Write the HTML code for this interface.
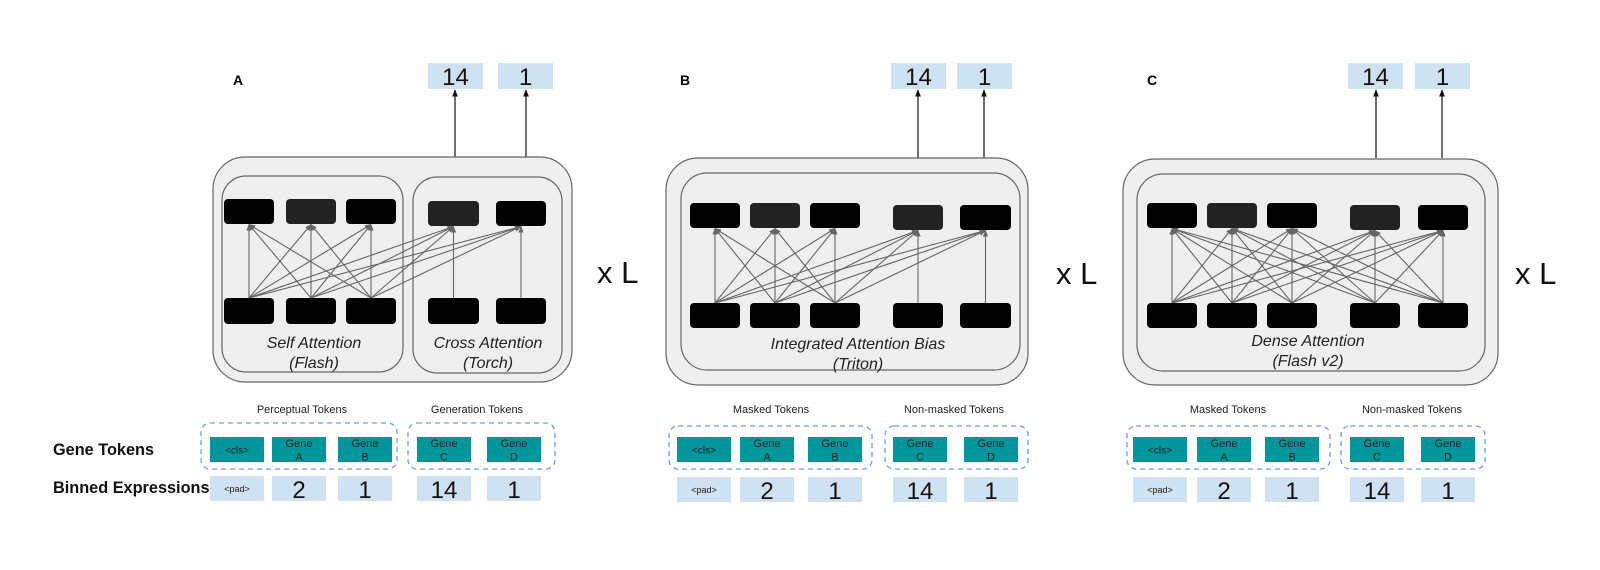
<!DOCTYPE html>
<html><head><meta charset="utf-8"><style>
html,body{margin:0;padding:0;background:#fff;}
svg{display:block;font-family:"Liberation Sans",Arial,sans-serif;}
</style></head><body>
<svg id="s" width="1600" height="570" viewBox="0 0 1600 570" xmlns="http://www.w3.org/2000/svg">
<defs>
<marker id="ah" viewBox="0 0 10 10" refX="9" refY="5" markerWidth="6" markerHeight="6" orient="auto-start-reverse"><path d="M0,1 L10,5 L0,9 z" fill="#666"/></marker>
<marker id="ak" viewBox="0 0 10 10" refX="9" refY="5" markerWidth="6" markerHeight="6" orient="auto-start-reverse"><path d="M0,1 L10,5 L0,9 z" fill="#111"/></marker>
</defs>
<rect width="1600" height="570" fill="#fff"/>

<g font-size="14" font-weight="bold">
<text x="233" y="85">A</text>
<text x="680" y="85">B</text>
<text x="1147" y="85">C</text>
</g>

<g fill="#cfe2f3">
<rect x="428" y="63" width="55" height="26"/><rect x="498" y="63" width="55" height="26"/>
<rect x="891" y="63" width="55" height="26"/><rect x="957" y="63" width="55" height="26"/>
<rect x="1348" y="63" width="55" height="26"/><rect x="1415" y="63" width="55" height="26"/>
</g>
<g font-size="24" text-anchor="middle" fill="#111">
<text x="455.5" y="85">14</text><text x="525.5" y="85">1</text>
<text x="918.5" y="85">14</text><text x="984.5" y="85">1</text>
<text x="1375.5" y="85">14</text><text x="1442.5" y="85">1</text>
</g>
<g stroke="#111" stroke-width="1.2" marker-end="url(#ak)">
<line x1="455" y1="157" x2="455" y2="90"/><line x1="526" y1="157" x2="526" y2="90"/>
<line x1="918" y1="158" x2="918" y2="90"/><line x1="984" y1="158" x2="984" y2="90"/>
<line x1="1376" y1="158" x2="1376" y2="90"/><line x1="1442" y1="158" x2="1442" y2="90"/>
</g>

<g fill="#efefef" stroke="#666" stroke-width="1.2">
<rect x="213" y="157" width="359" height="225" rx="32"/>
<rect x="222" y="176" width="181" height="196" rx="24"/>
<rect x="413" y="177" width="149" height="196" rx="24"/>
<rect x="666" y="158" width="362" height="227" rx="32"/>
<rect x="681" y="173" width="339" height="197" rx="26"/>
<rect x="1123" y="159" width="375" height="226" rx="32"/>
<rect x="1137" y="174" width="348" height="197" rx="26"/>
</g>

<g id="lines" stroke="#666" stroke-width="1.1" fill="none"></g>

<g fill="#000">
<rect x="224" y="199" width="50" height="25" rx="4"/>
<rect x="286" y="199" width="50" height="25" rx="4" fill="#222"/>
<rect x="346" y="199" width="50" height="25" rx="4"/>
<rect x="428" y="201" width="51" height="25" rx="4" fill="#222"/>
<rect x="496" y="201" width="50" height="25" rx="4"/>
<rect x="224" y="298" width="50" height="26" rx="4"/>
<rect x="286" y="298" width="50" height="26" rx="4"/>
<rect x="346" y="298" width="50" height="26" rx="4"/>
<rect x="428" y="298" width="51" height="26" rx="4"/>
<rect x="496" y="298" width="50" height="26" rx="4"/>
<rect x="690" y="203" width="50" height="25" rx="4"/>
<rect x="750" y="203" width="50" height="25" rx="4" fill="#222"/>
<rect x="810" y="203" width="50" height="25" rx="4"/>
<rect x="893" y="205" width="50" height="25" rx="4" fill="#222"/>
<rect x="960" y="205" width="51" height="25" rx="4"/>
<rect x="690" y="303" width="50" height="25" rx="4"/>
<rect x="750" y="303" width="50" height="25" rx="4"/>
<rect x="810" y="303" width="50" height="25" rx="4"/>
<rect x="893" y="303" width="50" height="25" rx="4"/>
<rect x="960" y="303" width="51" height="25" rx="4"/>
<rect x="1147" y="203" width="50" height="25" rx="4"/>
<rect x="1207" y="203" width="50" height="25" rx="4" fill="#222"/>
<rect x="1267" y="203" width="50" height="25" rx="4"/>
<rect x="1350" y="205" width="50" height="25" rx="4" fill="#222"/>
<rect x="1418" y="205" width="50" height="25" rx="4"/>
<rect x="1147" y="303" width="50" height="25" rx="4"/>
<rect x="1207" y="303" width="50" height="25" rx="4"/>
<rect x="1267" y="303" width="50" height="25" rx="4"/>
<rect x="1350" y="303" width="50" height="25" rx="4"/>
<rect x="1418" y="303" width="50" height="25" rx="4"/>
</g>

<g font-size="16" font-style="italic" text-anchor="middle" fill="#222">
<text x="314" y="348">Self Attention</text><text x="314" y="368">(Flash)</text>
<text x="488" y="348">Cross Attention</text><text x="488" y="368">(Torch)</text>
<text x="858" y="349">Integrated Attention Bias</text><text x="858" y="369">(Triton)</text>
<text x="1308" y="346">Dense Attention</text><text x="1308" y="366">(Flash v2)</text>
</g>

<g font-size="31" fill="#111">
<text x="597" y="283">x L</text>
<text x="1056" y="284">x L</text>
<text x="1515" y="284">x L</text>
</g>

<g font-size="16.3" font-weight="bold" fill="#111">
<text x="53" y="455">Gene Tokens</text>
<text x="53" y="493">Binned Expressions</text>
</g>
<g font-size="11" text-anchor="middle" fill="#222">
<text x="302" y="413">Perceptual Tokens</text><text x="477" y="413">Generation Tokens</text>
<text x="771" y="413">Masked Tokens</text><text x="954" y="413">Non-masked Tokens</text>
<text x="1228" y="413">Masked Tokens</text><text x="1412" y="413">Non-masked Tokens</text>
</g>
<g fill="none" stroke="#6d9eeb" stroke-width="1.3" stroke-dasharray="5,4">
<rect x="201" y="423" width="196" height="46" rx="9"/>
<rect x="408" y="423" width="147" height="46" rx="9"/>
<rect x="669" y="426" width="203" height="43" rx="9"/>
<rect x="885" y="426" width="143" height="43" rx="9"/>
<rect x="1127" y="426" width="203" height="43" rx="9"/>
<rect x="1341" y="426" width="144" height="43" rx="9"/>
</g>

<g id="tok"></g>
</svg>
<script>
var NS="http://www.w3.org/2000/svg";
var L=document.getElementById("lines");
function ln(x1,y1,x2,y2){var e=document.createElementNS(NS,"line");e.setAttribute("x1",x1);e.setAttribute("y1",y1);e.setAttribute("x2",x2);e.setAttribute("y2",y2);e.setAttribute("marker-end","url(#ah)");L.appendChild(e);}
var aB=[249,311,371],aC=[453.5,521];
aB.forEach(function(b){aB.forEach(function(t){ln(b,298,t,224.5)});aC.forEach(function(t){ln(b,298,t,226.5)});});
aC.forEach(function(c){ln(c,298,c,226.5)});
var bB=[715,775,835],bC=[918,985.5];
bB.forEach(function(b){bB.forEach(function(t){ln(b,303,t,228.5)});bC.forEach(function(t){ln(b,303,t,230.5)});});
bC.forEach(function(c){ln(c,303,c,230.5)});
var cX=[1172,1232,1292,1375,1443];
cX.forEach(function(b){cX.forEach(function(t,i){ln(b,303,t,i<3?228.5:230.5)});});
var T=document.getElementById("tok");
function rect(x,y,w,h,f){var e=document.createElementNS(NS,"rect");e.setAttribute("x",x);e.setAttribute("y",y);e.setAttribute("width",w);e.setAttribute("height",h);e.setAttribute("fill",f);T.appendChild(e);}
function txt(x,y,s,sz,c){var e=document.createElementNS(NS,"text");e.setAttribute("x",x);e.setAttribute("y",y);e.setAttribute("font-size",sz);e.setAttribute("text-anchor","middle");e.setAttribute("fill",c);e.textContent=s;T.appendChild(e);}
var sets=[[210,272,338,417,487],[677,740,808,893,964],[1133,1197,1265,1350,1421]];
var ty=[437,437,437];var by=[476,477,477];
var gl=[["<cls>"],["Gene","A"],["Gene","B"],["Gene","C"],["Gene","D"]];
var nums=["<pad>","2","1","14","1"];
sets.forEach(function(xs,k){xs.forEach(function(x,i){
 rect(x,ty[k],54,25,"#00969c");
 if(gl[i].length==1){txt(x+27,ty[k]+16.5,gl[i][0],10,"#222");}
 else{txt(x+27,ty[k]+10,gl[i][0],11,"#222");txt(x+27,ty[k]+23.5,gl[i][1],11,"#222");}
 rect(x,by[k],54,25,"#cfe2f3");
 if(i==0)txt(x+27,by[k]+16,"<pad>",9,"#222");else txt(x+27,by[k]+22,nums[i],24,"#111");
});});
</script>
</body></html>
